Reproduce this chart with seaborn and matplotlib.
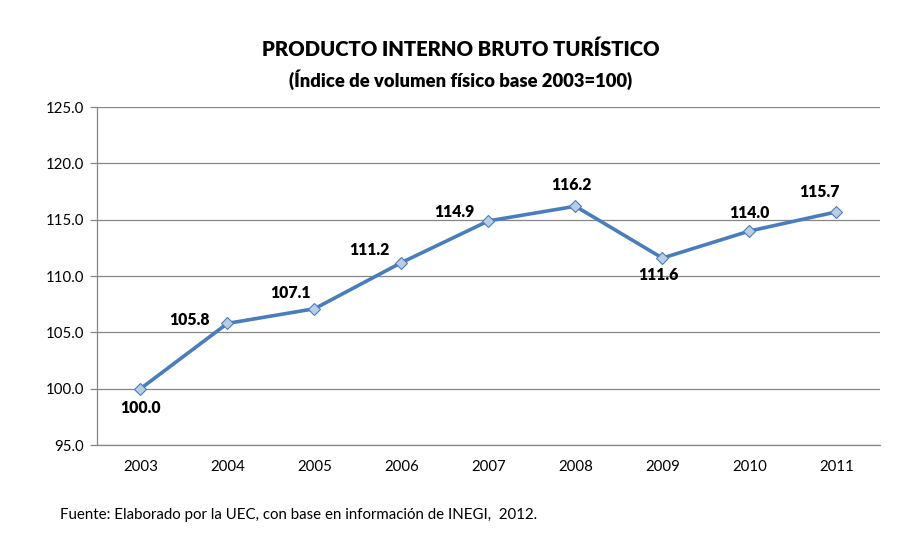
import pandas as pd
import matplotlib.pyplot as plt
import seaborn as sns
from matplotlib.ticker import FixedLocator

years = ['2003', '2004', '2005', '2006', '2007', '2008', '2009', '2010', '2011']
pib = [100.0, 105.8, 107.1, 111.2, 114.9, 116.2, 111.6, 114.0, 115.7]
# label offsets in pixels (dx, dy) from each point
offsets = [(0, -19), (-38, 3), (-24, 16), (-32, 13), (-34, 9),
           (-4, 21), (-4, -17), (0, 18), (-17, 20)]

df = pd.DataFrame({'Año': years, 'PIB': pib})

sns.set_style("white")
plt.rcParams['font.family'] = ['Lato', 'DejaVu Sans']
plt.rcParams['text.color'] = 'black'

fig = plt.figure(figsize=(9.02, 5.33), dpi=100)
ax = fig.add_axes([0.1075, 0.165, 0.868, 0.634])

sns.lineplot(data=df, x='Año', y='PIB', ax=ax, color='#4A7EBB', linewidth=2.6,
             marker='D', markersize=6, markerfacecolor='#B9CDE5',
             markeredgecolor='#4A7EBB', markeredgewidth=0.8)

for i, (v, (dx, dy)) in enumerate(zip(pib, offsets)):
    ax.annotate(f'{v:.1f}', (i, v), xytext=(dx, dy), textcoords='offset pixels',
                ha='center', va='center', fontsize=11.3, fontweight='heavy', color='black')

ax.set_ylim(95, 125)
ax.set_yticks([95, 100, 105, 110, 115, 120, 125])
ax.set_yticklabels([f'{t:.1f}' for t in ax.get_yticks()])
ax.set_xlim(-0.5, len(years) - 0.5)
ax.xaxis.set_minor_locator(FixedLocator([i - 0.5 for i in range(len(years) + 1)]))
ax.yaxis.grid(True, color='#868686', linewidth=0.9)
ax.set_axisbelow(True)

for side in ['top', 'right']:
    ax.spines[side].set_visible(False)
for side in ['left', 'bottom']:
    ax.spines[side].set_color('#868686')
    ax.spines[side].set_linewidth(0.9)

ax.tick_params(axis='x', which='major', length=0, pad=11, labelsize=10.8, labelcolor='black')
ax.tick_params(axis='x', which='minor', length=5, color='#868686', width=0.9, direction='out')
ax.tick_params(axis='y', length=5, color='#868686', width=0.9, direction='out', labelsize=10.8,
               pad=4, labelcolor='black')
ax.tick_params(left=True, bottom=True)
ax.set_xlabel('')
ax.set_ylabel('')

fig.text(0.511, 0.908, 'PRODUCTO INTERNO BRUTO TURÍSTICO', ha='center', va='center',
         fontsize=14.6, fontweight='heavy', color='black')
fig.text(0.511, 0.85, '(Índice de volumen físico base 2003=100)', ha='center', va='center',
         fontsize=13.2, fontweight='heavy', color='black')
fig.text(0.066, 0.034, 'Fuente: Elaborado por la UEC, con base en información de INEGI,  2012.',
         ha='left', va='center', fontsize=10.8, color='black')

plt.savefig('out.png', dpi=100)
